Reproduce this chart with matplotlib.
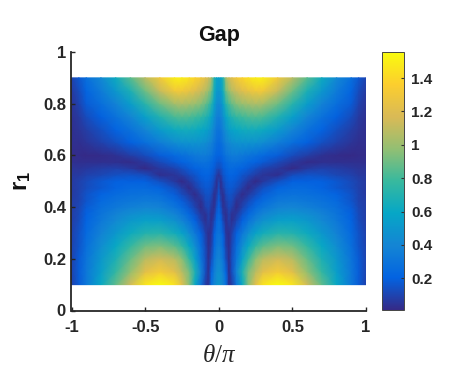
import numpy as np
import matplotlib
matplotlib.use("Agg")
import matplotlib.pyplot as plt
from matplotlib.colors import LinearSegmentedColormap

plt.rcParams['font.family'] = ['Liberation Sans', 'DejaVu Sans']
plt.rcParams['mathtext.fontset'] = 'custom'
plt.rcParams['mathtext.rm'] = 'Liberation Serif'
plt.rcParams['mathtext.it'] = 'Liberation Serif:italic'
plt.rcParams['mathtext.bf'] = 'Liberation Sans:bold'

# Gap values; columns follow theta_abs, rows follow r1_rows
theta_abs = [0, .015, .03, .05, .07, .09, .12, .16, .2, .25, .3, .4, .5, .6, .7, .8, .9, .95, 1.0]
r1_rows = [.10, .15, .20, .25, .30, .35, .375, .40, .425, .45, .475, .50, .525, .55, .575, .60,
           .65, .70, .75, .80, .85, .90]
gap_half = [
    [.50, .46, .40, .28, .04, .08, .30, .60, .95, 1.22, 1.45, 1.55, 1.46, 1.15, .87, .60, .32, .18, .09],
    [.46, .43, .36, .22, .03, .14, .38, .68, .92, 1.08, 1.22, 1.32, 1.22, .98, .76, .54, .32, .19, .10],
    [.40, .37, .30, .13, .03, .14, .31, .55, .76, .96, 1.08, 1.15, 1.08, .88, .68, .50, .30, .18, .10],
    [.35, .32, .24, .08, .03, .12, .26, .44, .60, .76, .86, .94, .90, .76, .60, .44, .27, .16, .10],
    [.30, .28, .20, .05, .03, .09, .20, .33, .44, .56, .64, .72, .70, .62, .50, .38, .24, .15, .09],
    [.27, .22, .11, .03, .09, .03, .10, .20, .29, .39, .46, .54, .55, .50, .42, .33, .21, .13, .08],
    [.24, .18, .07, .03, .10, .04, .06, .15, .23, .32, .39, .46, .48, .44, .38, .30, .20, .12, .08],
    [.21, .14, .04, .06, .12, .09, .02, .10, .17, .25, .31, .38, .40, .37, .33, .27, .18, .11, .08],
    [.19, .10, .025, .09, .13, .12, .04, .06, .12, .19, .25, .33, .34, .32, .29, .24, .16, .10, .08],
    [.17, .07, .03, .12, .15, .14, .09, .02, .07, .13, .19, .27, .29, .28, .25, .21, .15, .10, .07],
    [.14, .03, .08, .15, .17, .17, .14, .08, .02, .08, .14, .22, .25, .24, .21, .17, .13, .09, .07],
    [.11, .03, .12, .17, .19, .19, .17, .12, .07, .015, .06, .14, .20, .20, .20, .17, .12, .09, .07],
    [.04, .09, .15, .19, .21, .21, .20, .16, .13, .08, .05, .03, .13, .15, .14, .11, .09, .07, .06],
    [.13, .14, .18, .22, .24, .24, .23, .21, .18, .14, .10, .06, .015, .07, .09, .08, .06, .05, .05],
    [.17, .18, .21, .25, .28, .29, .29, .27, .24, .21, .18, .12, .06, .02, .03, .03, .03, .03, .03],
    [.21, .22, .25, .30, .33, .34, .34, .33, .30, .27, .24, .19, .13, .08, .04, .02, .015, .02, .02],
    [.25, .27, .32, .38, .42, .45, .47, .48, .48, .47, .44, .36, .27, .20, .14, .09, .05, .03, .03],
    [.30, .32, .38, .47, .53, .57, .60, .63, .64, .64, .62, .52, .40, .29, .21, .14, .08, .05, .03],
    [.36, .38, .46, .58, .66, .71, .76, .80, .83, .84, .82, .70, .55, .40, .29, .20, .13, .07, .04],
    [.42, .45, .55, .72, .82, .88, .95, 1.00, 1.03, 1.05, 1.03, .90, .72, .53, .38, .27, .18, .10, .05],
    [.50, .52, .65, .90, 1.00, 1.07, 1.13, 1.20, 1.25, 1.30, 1.30, 1.12, .90, .68, .50, .34, .22, .13, .07],
    [.55, .58, .70, 1.05, 1.15, 1.22, 1.30, 1.38, 1.44, 1.50, 1.50, 1.30, 1.08, .85, .62, .42, .27, .17, .10],
]
x_ticks = [-1, -0.5, 0, 0.5, 1]
x_labels = ['-1', '-0.5', '0', '0.5', '1']
y_ticks = [0, 0.2, 0.4, 0.6, 0.8, 1]
y_labels = ['0', '0.2', '0.4', '0.6', '0.8', '1']
cbar_ticks = [0.2, 0.4, 0.6, 0.8, 1, 1.2, 1.4]
cbar_labels = ['0.2', '0.4', '0.6', '0.8', '1', '1.2', '1.4']
parula_colors = ['#352a87', '#0363e1', '#1485d4', '#06a7c6', '#38b99e',
                 '#92bf73', '#d9ba56', '#fcce2e', '#f9fb0e']

half = np.array(gap_half)
theta = np.array(theta_abs)
theta_full = np.concatenate([-theta[:0:-1], theta])
gap_full = np.hstack([half[:, :0:-1], half])
parula = LinearSegmentedColormap.from_list('parula', parula_colors, N=256)

W, H = 456, 379
fig = plt.figure(figsize=(W / 100, H / 100), dpi=100)
ax = fig.add_axes([71.5 / W, 1 - 310.5 / H, 294.5 / W, 258.5 / H])
mesh = ax.pcolormesh(theta_full, r1_rows, gap_full, shading='gouraud',
                     cmap=parula, vmin=0.01, vmax=1.556, rasterized=True)
ax.set_xlim(-1, 1)
ax.set_ylim(0, 1)
ax.spines['top'].set_visible(False)
ax.spines['right'].set_visible(False)
for s in ('left', 'bottom'):
    ax.spines[s].set_linewidth(1.3)
    ax.spines[s].set_color('#262626')
ax.set_xticks(x_ticks, x_labels)
ax.set_yticks(y_ticks, y_labels)
ax.tick_params(direction='in', length=3, width=1.0, color='#262626',
               labelsize=12, labelcolor='#262626')
ax.tick_params(axis='x', pad=7)
ax.tick_params(axis='y', pad=4)
for t in ax.get_xticklabels() + ax.get_yticklabels():
    t.set_fontweight('bold')
fig.text(219 / W, 1 - 35 / H, 'Gap', ha='center', va='center', fontsize=15.5,
         fontweight='bold', color='#111111')
fig.text(219 / W, 1 - 355 / H, r'$\theta/\pi$', ha='center', va='center',
         fontsize=18, color='#262626')
fig.text(22 / W, 1 - 181 / H, r'$\mathbf{r_1}$', rotation=90, ha='center', va='center',
         fontsize=17, color='#111111')

cax = fig.add_axes([382 / W, 1 - 310 / H, 22 / W, 258 / H])
cb = fig.colorbar(mesh, cax=cax)
cb.set_ticks(cbar_ticks, labels=cbar_labels)
cb.ax.tick_params(direction='in', length=2, width=0.8, color='#333333',
                  labelsize=11, labelcolor='#262626', pad=5)
for t in cb.ax.get_yticklabels():
    t.set_fontweight('bold')
cb.outline.set_linewidth(0.7)
cb.outline.set_edgecolor('#444444')
fig.savefig('out.png', dpi=100)
